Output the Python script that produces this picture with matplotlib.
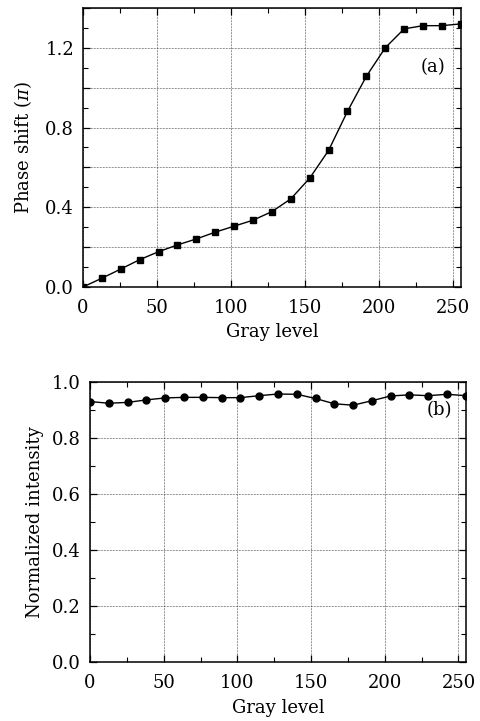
import matplotlib
matplotlib.use("Agg")
import matplotlib.pyplot as plt
import numpy as np
from matplotlib.ticker import MultipleLocator, FixedLocator, FuncFormatter

plt.rcParams['font.family'] = ['DejaVu Serif']
plt.rcParams['mathtext.fontset'] = 'dejavuserif'

gray_levels = [0, 12.75, 25.5, 38.25, 51, 63.75, 76.5, 89.25, 102, 114.75, 127.5,
               140.25, 153, 165.75, 178.5, 191.25, 204, 216.75, 229.5, 242.25, 255]
phase_shift = [0.0, 0.044, 0.09, 0.137, 0.177, 0.211, 0.241, 0.275, 0.305, 0.335, 0.378,
               0.442, 0.546, 0.685, 0.881, 1.057, 1.20, 1.295, 1.311, 1.311, 1.32]
norm_intensity = [0.931, 0.925, 0.928, 0.937, 0.944, 0.946, 0.946, 0.945, 0.945, 0.952, 0.958,
                  0.957, 0.942, 0.923, 0.918, 0.934, 0.951, 0.955, 0.952, 0.957, 0.952]
x_ticks = [0, 50, 100, 150, 200, 250]

fig = plt.figure(figsize=(4.8, 7.21), dpi=100)
ax1 = fig.add_axes([0.173, 0.602, 0.787, 0.387])
ax2 = fig.add_axes([0.1875, 0.0822, 0.783, 0.3876])

fs = 13
grid_kw = dict(color='#444444', linestyle=(0, (0.8, 1.0)), linewidth=0.6)

def style(ax):
    ax.tick_params(which='both', direction='in', top=True, right=True, labelsize=fs)
    ax.tick_params(which='major', length=5, width=0.9)
    ax.tick_params(which='minor', length=3.5, width=0.8)
    ax.tick_params(axis='x', which='major', pad=9)
    ax.tick_params(axis='y', which='major', pad=6.5)
    for s in ax.spines.values():
        s.set_linewidth(1.1)
    ax.xaxis.set_major_locator(FixedLocator(x_ticks))
    ax.xaxis.set_minor_locator(MultipleLocator(25))
    ax.set_xlim(0, 255)
    ax.grid(True, which='major', **grid_kw)
    ax.set_axisbelow(True)

# Top panel
ax1.plot(gray_levels, phase_shift, '-s', color='black', markersize=5, linewidth=1.0)
style(ax1)
ax1.set_ylim(0, 1.4)
ax1.yaxis.set_major_locator(MultipleLocator(0.2))
ax1.yaxis.set_minor_locator(MultipleLocator(0.1))
ax1.yaxis.set_major_formatter(FuncFormatter(
    lambda v, p: f"{v:.1f}" if abs(round(v / 0.4) * 0.4 - v) < 1e-6 else ""))
ax1.set_xlabel("Gray level", fontsize=fs, labelpad=4)
ax1.set_ylabel(r"Phase shift ($\pi$)", fontsize=fs, labelpad=8)
ax1.text(0.958, 0.789, "(a)", transform=ax1.transAxes, ha='right', va='center', fontsize=fs)

# Bottom panel
ax2.plot(gray_levels, norm_intensity, '-o', color='black', markersize=5, linewidth=1.0)
style(ax2)
ax2.set_ylim(0, 1.0)
ax2.yaxis.set_major_locator(MultipleLocator(0.2))
ax2.yaxis.set_minor_locator(MultipleLocator(0.1))
ax2.yaxis.set_major_formatter(FuncFormatter(lambda v, p: f"{v:.1f}"))
ax2.set_xlabel("Gray level", fontsize=fs, labelpad=5)
ax2.set_ylabel("Normalized intensity", fontsize=fs, labelpad=6)
ax2.text(0.963, 0.90, "(b)", transform=ax2.transAxes, ha='right', va='center', fontsize=fs)

fig.savefig("out.png", dpi=100)
